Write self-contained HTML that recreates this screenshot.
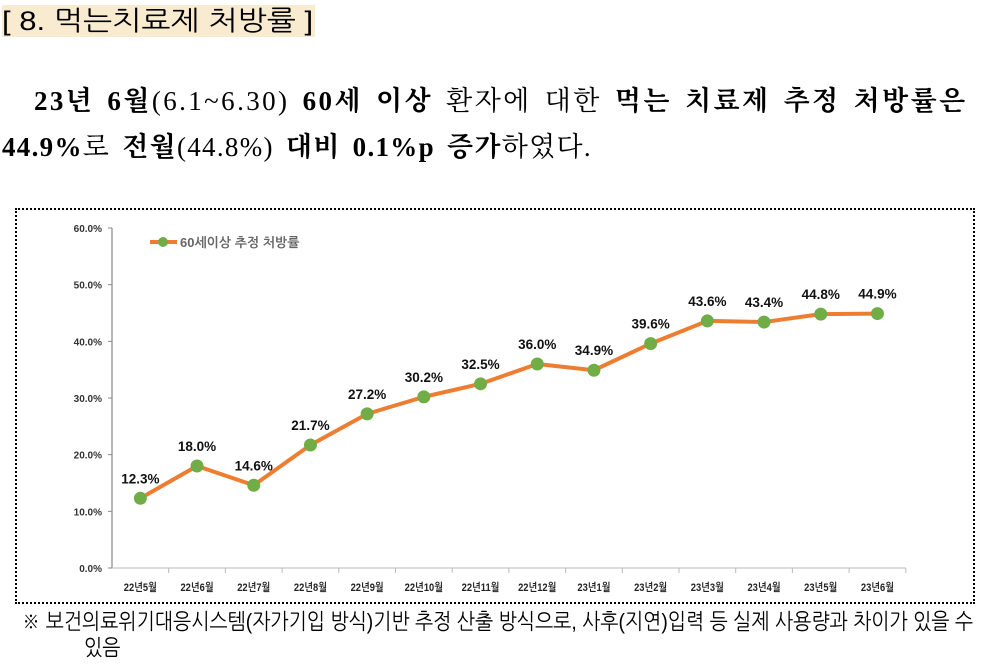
<!DOCTYPE html>
<html><head><meta charset="utf-8"><style>
body{margin:0;width:985px;height:665px;background:#fff;overflow:hidden;position:relative;font-family:"Liberation Serif","Noto Serif CJK KR","Noto Serif CJK SC",serif;}
.t{position:absolute;white-space:nowrap;}
</style></head><body>
<div class="t" style="left:2px;top:5px;width:313px;height:32px;background:#f9ebd0;font-family:'Liberation Sans','NanumGothic',sans-serif;font-size:27px;line-height:32px;overflow:hidden;"><span style="display:inline-block;transform:scaleX(1.15);transform-origin:left;">[ 8. 먹는치료제 처방률 ]</span></div>
<div class="t" style="left:34px;top:85px;font-size:27px;line-height:32px;letter-spacing:2.4px;word-spacing:4px;"><b>23년 6월</b>(6.1~6.30) <b>60세 이상</b> 환자에 대한 <b>먹는 치료제 추정 처방률은</b></div>
<div class="t" style="left:2px;top:131px;font-size:27px;line-height:32px;letter-spacing:1.3px;word-spacing:4px;"><b>44.9%</b>로 <b>전월</b>(44.8%) <b>대비 0.1%p 증가</b>하였다.</div>
<div style="position:absolute;left:15px;top:208px;width:960px;height:396px;border:2px dotted #000;box-sizing:border-box;"></div>
<svg id="chart" width="985" height="665" style="position:absolute;left:0;top:0;font-family:'Liberation Sans','NanumGothic',sans-serif;"></svg>
<div class="t" style="left:22px;top:609px;font-family:'Liberation Sans','NanumGothic',sans-serif;font-size:22px;line-height:26px;"><span style="display:inline-block;transform:scaleX(0.88);transform-origin:left;">※ 보건의료위기대응시스템(자가기입 방식)기반 추정 산출 방식으로, 사후(지연)입력 등 실제 사용량과 차이가 있을 수</span><br><span style="display:inline-block;margin-left:62px;transform:scaleX(0.88);transform-origin:left;">있음</span></div>
<script>
const categories=["22년5월","22년6월","22년7월","22년8월","22년9월","22년10월","22년11월","22년12월","23년1월","23년2월","23년3월","23년4월","23년5월","23년6월"];
const values=[12.3,18.0,14.6,21.7,27.2,30.2,32.5,36.0,34.9,39.6,43.6,43.4,44.8,44.9];
const yTicks=[0,10,20,30,40,50,60];
const svg=document.getElementById('chart');const NS='http://www.w3.org/2000/svg';
const x0=112,y0=568,yTop=228,bw=56.7;
const X=i=>x0+bw*(i+0.5);const Y=v=>y0-(v/60)*(y0-yTop);
function el(t,a,p){const e=document.createElementNS(NS,t);for(const k in a)e.setAttribute(k,a[k]);(p||svg).appendChild(e);return e;}
let ax=el('line',{x1:x0,y1:yTop,x2:x0,y2:y0,stroke:'#888','stroke-width':1.2});

let xa=el('line',{x1:x0,y1:y0,x2:x0+bw*categories.length,y2:y0,stroke:'#bbb','stroke-width':1});

yTicks.forEach(v=>{el('line',{x1:x0-4,y1:Y(v),x2:x0,y2:Y(v),stroke:'#888'});
const t=el('text',{x:x0-10,y:Y(v)+4,'text-anchor':'end','font-size':10,'font-weight':'bold',fill:'#333'});t.textContent=v.toFixed(1)+'%';
});
categories.forEach((c,i)=>{el('line',{x1:x0+bw*(i+1),y1:y0,x2:x0+bw*(i+1),y2:y0+5,stroke:'#bbb'});
const t=el('text',{x:X(i),y:y0+23,'text-anchor':'middle','font-size':11,'font-weight':'bold',fill:'#222',transform:`translate(${X(i)},0) scale(0.85,1) translate(${-X(i)},0)`});t.textContent=c;
});
const pl=el('polyline',{points:values.map((v,i)=>X(i)+','+Y(v)).join(' '),fill:'none',stroke:'#ed7d31','stroke-width':4,'stroke-linejoin':'round'});

values.forEach((v,i)=>{const c=el('circle',{cx:X(i),cy:Y(v),r:6.5,fill:'#70ad47'});

const t=el('text',{x:X(i),y:Y(v)-15,'text-anchor':'middle','font-size':13.5,'font-weight':'bold',fill:'#111'});t.textContent=v.toFixed(1)+'%';
});
const lg=el('g',{});
el('line',{x1:150,y1:242,x2:177,y2:242,stroke:'#ed7d31','stroke-width':4},lg);
el('circle',{cx:163,cy:242,r:5,fill:'#70ad47'},lg);
const lt=el('text',{x:180,y:247,'font-size':13,'font-weight':'bold',fill:'#666'},lg);lt.textContent='60세이상 추정 처방률';
</script>
</body></html>
